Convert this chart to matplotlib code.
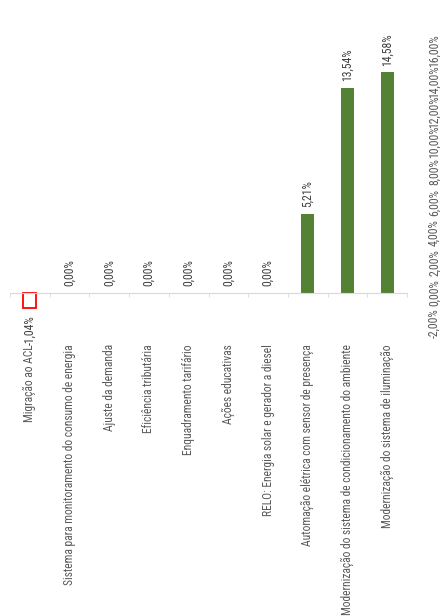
import matplotlib
matplotlib.use("Agg")
import matplotlib.pyplot as plt
from matplotlib import font_manager
from matplotlib.ticker import FuncFormatter, FixedLocator

acoes = ["Migração ao ACL",
         "Sistema para monitoramento do consumo de energia",
         "Ajuste da demanda",
         "Eficiência tributária",
         "Enquadramento tarifário",
         "Ações educativas",
         "RELO: Energia solar e gerador a diesel",
         "Automação elétrica com sensor de presença",
         "Modernização do sistema de condicionamento do ambiente",
         "Modernização do sistema de iluminação"]
economia = [-1.04, 0.00, 0.00, 0.00, 0.00, 0.00, 0.00, 5.21, 13.54, 14.58]
escala = [-2, 0, 2, 4, 6, 8, 10, 12, 14, 16]

# fonte estreita, se houver
names = {f.name for f in font_manager.fontManager.ttflist}
for fam in ["Liberation Sans Narrow", "DejaVu Sans Condensed", "Roboto Condensed", "Open Sans Condensed"]:
    if fam in names:
        plt.rcParams["font.family"] = [fam, "DejaVu Sans"]
        break

cinza = "#595959"
verde = "#548235"


def pct(v):
    return f"{v:.2f}%".replace(".", ",")


fig = plt.figure(figsize=(4.43, 6.16), dpi=100)
ax = fig.add_axes([10 / 443, 1 - 323 / 616, 397 / 443, 272 / 616])

pos = list(range(len(acoes)))
for i, v in zip(pos, economia):
    if v < 0:
        ax.bar(i, v, width=0.33, facecolor="none", edgecolor="#ff0000", linewidth=1.3)
        ax.annotate(pct(v), (i, v), xytext=(0, -5), textcoords="offset points",
                    rotation=90, ha="center", va="top", fontsize=8.5, color="#404040")
    else:
        ax.bar(i, v, width=0.33, color=verde)
        ax.annotate(pct(v), (i, v), xytext=(0, 5), textcoords="offset points",
                    rotation=90, ha="center", va="bottom", fontsize=8.5, color="#404040")

ax.set_xlim(-0.5, len(acoes) - 0.5)
ax.set_ylim(escala[0], escala[-1])

for s in ["top", "left", "right"]:
    ax.spines[s].set_visible(False)
ax.spines["bottom"].set_position(("data", 0))
ax.spines["bottom"].set_color("#d9d9d9")

# rótulos das categorias abaixo do limite inferior do eixo
ax.set_xticks(pos)
ax.set_xticklabels(acoes, rotation=90, fontsize=8.3, color=cinza)
ax.tick_params(axis="x", which="major", length=0, pad=37)
ax.xaxis.set_minor_locator(FixedLocator([p - 0.5 for p in pos] + [pos[-1] + 0.5]))
ax.tick_params(axis="x", which="minor", length=3, color="#d9d9d9", direction="out")

ax.yaxis.tick_right()
ax.set_yticks(escala)
ax.yaxis.set_major_formatter(FuncFormatter(lambda v, p: pct(v)))
ax.tick_params(axis="y", length=0, pad=15, labelsize=8.5, labelcolor=cinza)
for lb in ax.get_yticklabels():
    lb.set_rotation(90)
    lb.set_va("center")

fig.savefig("out.png", dpi=100)
